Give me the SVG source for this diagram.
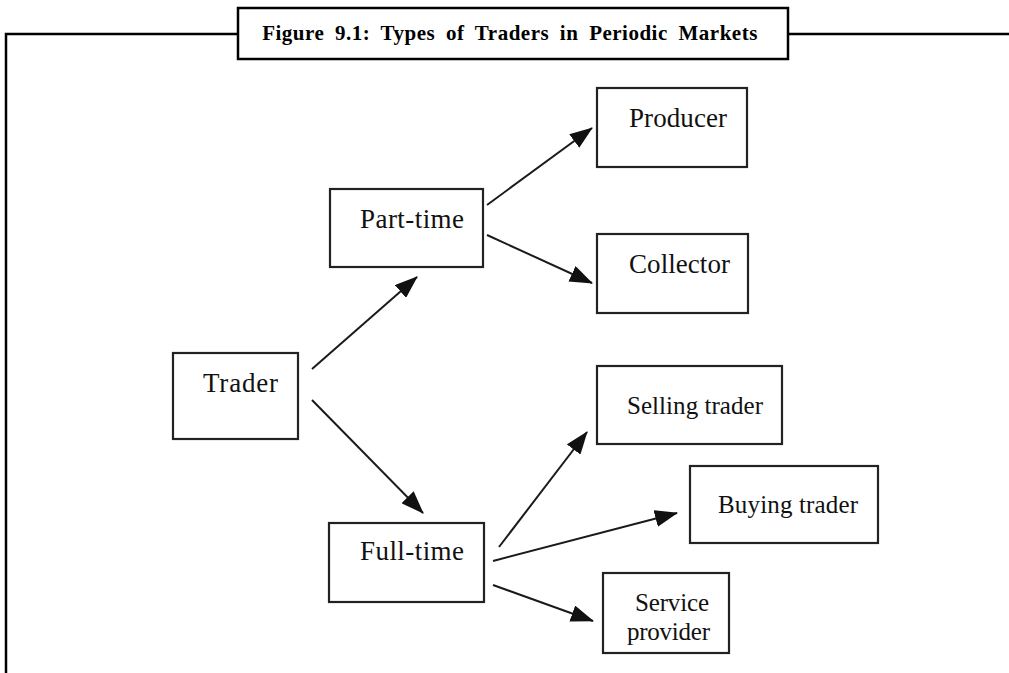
<svg xmlns="http://www.w3.org/2000/svg" width="1009" height="673" viewBox="0 0 1009 673">
<style>
.box{fill:#fff;stroke:#222;stroke-width:2.2}
.lbl{font-family:"Liberation Serif","Times New Roman",serif;font-size:27px;fill:#111}
.sm{font-size:25px}
.frame{fill:none;stroke:#000;stroke-width:2.5}
.title{font-family:"Liberation Serif","Times New Roman",serif;font-weight:bold;font-size:21px;word-spacing:5px;letter-spacing:0.5px;fill:#000}
.conn line{stroke:#1a1a1a;stroke-width:2;marker-end:url(#ah)}
</style>
<defs>
<marker id="ah" markerUnits="userSpaceOnUse" markerWidth="23" markerHeight="17" refX="22" refY="8.5" orient="auto">
<path d="M0,0 L23,8.5 L0,17 Z" fill="#111"/>
</marker>
</defs>
<rect width="1009" height="673" fill="#fff"/>
<g id="frame">
<path class="frame" d="M6,673 V34 H238 M788,34 H1009"/>
<rect class="frame" x="238" y="8" width="550" height="51" fill="#fff"/>
<text class="title" x="510" y="40" text-anchor="middle">Figure 9.1: Types of Traders in Periodic Markets</text>
</g>
<g class="conn" id="connectors">
<line x1="312" y1="369" x2="417" y2="277"/>
<line x1="312" y1="400" x2="423" y2="513"/>
<line x1="487" y1="205" x2="592" y2="128"/>
<line x1="487" y1="235" x2="592" y2="283"/>
<line x1="499" y1="547" x2="587" y2="432"/>
<line x1="493" y1="561" x2="677" y2="513"/>
<line x1="493" y1="585" x2="593" y2="621"/>
</g>
<g id="trader">
<rect class="box" x="173" y="353" width="125" height="86"/>
<text class="lbl" x="203" y="392" textLength="75">Trader</text>
</g>
<g id="parttime">
<rect class="box" x="330" y="189" width="153" height="78"/>
<text class="lbl" x="360" y="228" textLength="104">Part-time</text>
</g>
<g id="fulltime">
<rect class="box" x="329" y="523" width="155" height="79"/>
<text class="lbl" x="360" y="560" textLength="104">Full-time</text>
</g>
<g id="producer">
<rect class="box" x="597" y="88" width="150" height="79"/>
<text class="lbl" x="629" y="127" textLength="98">Producer</text>
</g>
<g id="collector">
<rect class="box" x="597" y="234" width="151" height="79"/>
<text class="lbl" x="629" y="273" textLength="101">Collector</text>
</g>
<g id="selling">
<rect class="box" x="597" y="366" width="185" height="78"/>
<text class="lbl sm" x="627" y="414" textLength="136">Selling trader</text>
</g>
<g id="buying">
<rect class="box" x="690" y="466" width="188" height="77"/>
<text class="lbl sm" x="718" y="513" textLength="140">Buying trader</text>
</g>
<g id="service">
<rect class="box" x="603" y="573" width="126" height="80"/>
<text class="lbl sm" x="635" y="611" textLength="74">Service</text>
<text class="lbl sm" x="627" y="640" textLength="83">provider</text>
</g>
</svg>
